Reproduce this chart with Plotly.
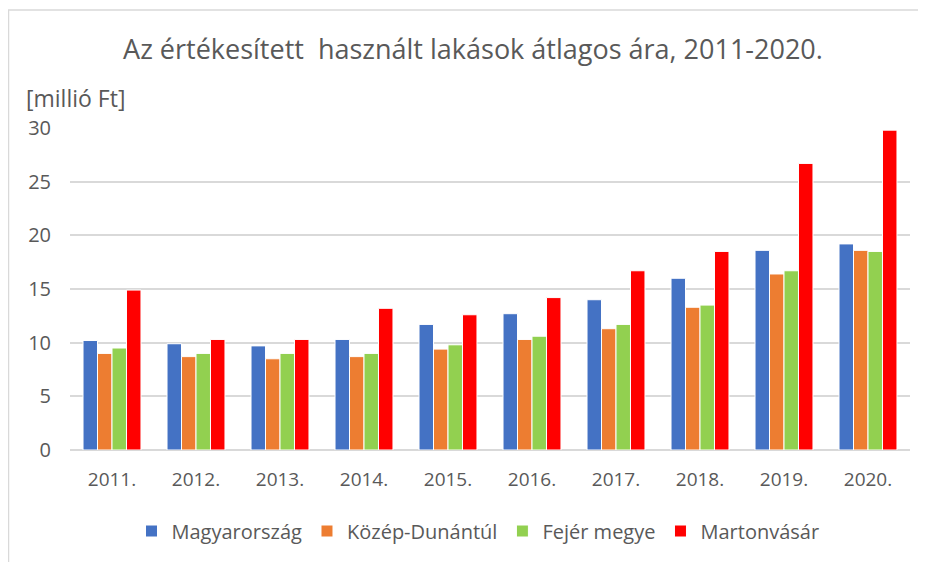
import plotly.graph_objects as go

years = ["2011.", "2012.", "2013.", "2014.", "2015.", "2016.", "2017.", "2018.", "2019.", "2020."]
magyarorszag = [10.2, 9.9, 9.7, 10.3, 11.7, 12.7, 14.0, 16.0, 18.6, 19.2]
kozep_dunantul = [9.0, 8.7, 8.5, 8.7, 9.4, 10.3, 11.3, 13.3, 16.4, 18.6]
fejer_megye = [9.5, 9.0, 9.0, 9.0, 9.8, 10.6, 11.7, 13.5, 16.7, 18.5]
martonvasar = [14.9, 10.3, 10.3, 13.2, 12.6, 14.2, 16.7, 18.5, 26.7, 29.8]

series = [
    ("Magyarország", magyarorszag, "#4472C4"),
    ("Közép-Dunántúl", kozep_dunantul, "#ED7D31"),
    ("Fejér megye", fejer_megye, "#92D050"),
    ("Martonvásár", martonvasar, "#FF0000"),
]

FONT = "Open Sans, Roboto, sans-serif"
GREY = "#595959"

fig = go.Figure()
for name, vals, col in series:
    fig.add_trace(go.Bar(x=years, y=vals, name=name,
                         marker=dict(color=col, line=dict(color="white", width=1))))

W, H = 926, 562
L, R, T, B = 62, 24, 120, 120
pw, ph = W - L - R, H - T - B

def px_to_paper_x(px):
    return (px - L) / pw

def px_to_paper_y(py):
    return (H - B - py) / ph

fig.update_layout(
    width=W, height=H,
    margin=dict(l=L, r=R, t=T, b=B),
    paper_bgcolor="white", plot_bgcolor="white",
    font=dict(family=FONT, color=GREY, size=19),
    title=dict(text="Az értékesített  használt lakások átlagos ára, 2011-2020.",
               x=465 / W, xanchor="center", y=1 - 42 / H, yanchor="middle",
               font=dict(size=27, color=GREY, family=FONT)),
    barmode="group", bargap=0.31, bargroupgap=0.0,
    showlegend=True,
    legend=dict(orientation="h", x=470 / W, xref="container", xanchor="center",
                y=1 - 523 / H, yref="container", yanchor="middle",
                font=dict(size=20, color=GREY), itemwidth=30, traceorder="normal"),
    xaxis=dict(showgrid=False, showline=False, ticks="", ticklabelstandoff=16,
               tickfont=dict(size=19, color=GREY)),
    yaxis=dict(range=[0, 30], dtick=5, showgrid=True, gridcolor="#D9D9D9", gridwidth=1.6,
               zeroline=True, zerolinecolor="#D9D9D9", zerolinewidth=1.6,
               showline=False, ticks="", ticklabelstandoff=18,
               tickfont=dict(size=20, color=GREY)),
    annotations=[dict(text="[millió Ft]", xref="paper", yref="paper",
                      x=px_to_paper_x(16), y=px_to_paper_y(90), xanchor="left", yanchor="middle",
                      showarrow=False, font=dict(size=23, color=GREY))],
    shapes=[dict(type="rect", xref="paper", yref="paper",
                 x0=px_to_paper_x(0.5), x1=px_to_paper_x(940),
                 y0=px_to_paper_y(600), y1=px_to_paper_y(2),
                 line=dict(color="#D9D9D9", width=1.5), fillcolor="rgba(0,0,0,0)", layer="below")],
)

fig.write_html("out.html")
